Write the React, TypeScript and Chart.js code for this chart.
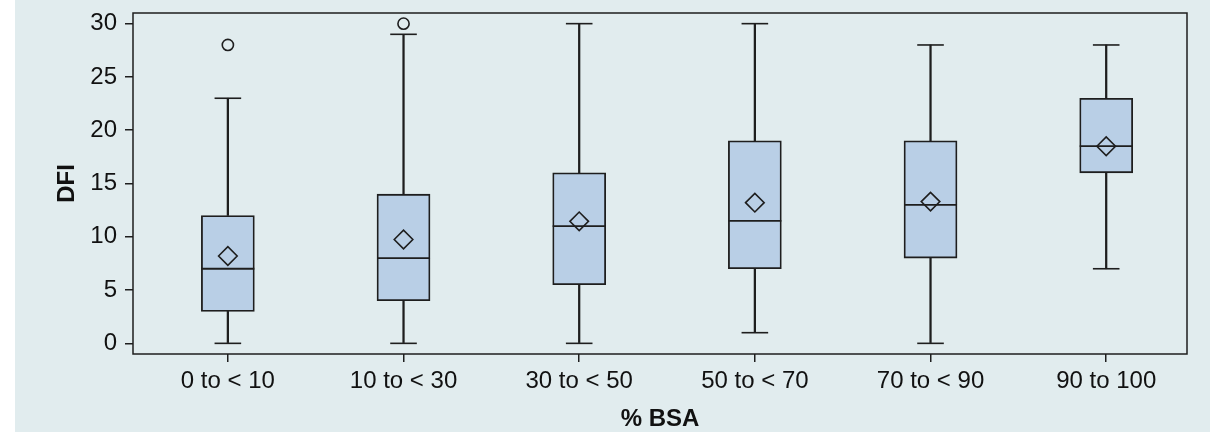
import React, { useEffect, useRef } from "react";
import { Chart, registerables } from "chart.js";

Chart.register(...registerables);

const categories = ["0 to < 10", "10 to < 30", "30 to < 50", "50 to < 70", "70 to < 90", "90 to 100"];
const whiskerMin = [0, 0, 0, 1, 0, 7];
const q1 = [3, 4, 5.5, 7, 8, 16];
const median = [7, 8, 11, 11.5, 13, 18.5];
const q3 = [12, 14, 16, 19, 19, 23];
const whiskerMax = [23, 29, 30, 30, 28, 28];
const means = [8.2, 9.75, 11.45, 13.2, 13.3, 18.5];
const outlierCat = [0, 1];
const outlierVal = [28, 30];
const yTicks = [0, 5, 10, 15, 20, 25, 30];

const LINE = "#1e1e1e";
const FONT = "'Liberation Sans', Arial, Helvetica, sans-serif";

const framePlugin = {
  id: "frame",
  afterDatasetsDraw(chart: any) {
    const { ctx, chartArea } = chart;
    ctx.save();
    ctx.strokeStyle = LINE;
    ctx.lineWidth = 1.5;
    ctx.strokeRect(chartArea.left, chartArea.top, chartArea.right - chartArea.left, chartArea.bottom - chartArea.top);
    ctx.restore();
  },
};

export default function App() {
  const ref = useRef<HTMLCanvasElement | null>(null);
  useEffect(() => {
    if (!ref.current) return;
    const idx = categories.map((_, i) => i);
    const chart = new Chart(ref.current, {
      type: "bar",
      data: {
        datasets: [
          {
            type: "bar",
            order: 10,
            data: idx.map((i) => ({ x: i, y: [q1[i], q3[i]] })) as any,
            backgroundColor: "#b9cfe6",
            borderColor: LINE,
            borderWidth: 1.8,
            borderSkipped: false,
            barThickness: 53,
            grouped: false,
          } as any,
          {
            type: "bar",
            order: 9,
            data: idx.map((i) => ({ x: i, y: [q3[i], whiskerMax[i]] })) as any,
            backgroundColor: LINE,
            borderWidth: 0,
            barThickness: 1.6,
            grouped: false,
          } as any,
          {
            type: "bar",
            order: 9,
            data: idx.map((i) => ({ x: i, y: [whiskerMin[i], q1[i]] })) as any,
            backgroundColor: LINE,
            borderWidth: 0,
            barThickness: 1.6,
            grouped: false,
          } as any,
          {
            type: "line",
            order: 1,
            data: idx.map((i) => ({ x: i, y: median[i] })),
            showLine: false,
            pointStyle: "line",
            pointRadius: 26.5,
            pointBorderWidth: 1.8,
            pointBorderColor: LINE,
          } as any,
          {
            type: "line",
            order: 1,
            data: idx.map((i) => ({ x: i, y: whiskerMax[i] })),
            showLine: false,
            pointStyle: "line",
            pointRadius: 13.3,
            pointBorderWidth: 1.6,
            pointBorderColor: LINE,
          } as any,
          {
            type: "line",
            order: 1,
            data: idx.map((i) => ({ x: i, y: whiskerMin[i] })),
            showLine: false,
            pointStyle: "line",
            pointRadius: 13.3,
            pointBorderWidth: 1.6,
            pointBorderColor: LINE,
          } as any,
          {
            type: "line",
            order: 0,
            data: idx.map((i) => ({ x: i, y: means[i] })),
            showLine: false,
            pointStyle: "rectRot",
            pointRadius: 9.3,
            pointBorderWidth: 1.6,
            pointBorderColor: LINE,
            pointBackgroundColor: "rgba(0,0,0,0)",
          } as any,
          {
            type: "line",
            order: 0,
            data: outlierCat.map((c, k) => ({ x: c, y: outlierVal[k] })),
            showLine: false,
            pointStyle: "circle",
            pointRadius: 5.6,
            pointBorderWidth: 1.6,
            pointBorderColor: LINE,
            pointBackgroundColor: "rgba(0,0,0,0)",
          } as any,
        ],
      },
      options: {
        animation: false,
        responsive: false,
        events: [],
        layout: { autoPadding: false, padding: { left: 0, top: 13, right: 23, bottom: 0 } },
        plugins: { legend: { display: false }, tooltip: { enabled: false } },
        scales: {
          x: {
            type: "linear",
            min: -0.54,
            max: 5.46,
            offset: false,
            grid: { display: true, drawOnChartArea: false, drawTicks: true, tickLength: 8, color: LINE, lineWidth: 1.5, offset: false },
            border: { display: false },
            afterBuildTicks: (scale: any) => {
              scale.ticks = idx.map((v) => ({ value: v }));
            },
            afterFit: (scale: any) => {
              scale.height = 78;
              scale.paddingLeft = 0;
              scale.paddingRight = 0;
            },
            ticks: {
              autoSkip: false,
              maxRotation: 0,
              padding: 5,
              color: "#111",
              font: { family: FONT, size: 24 },
              callback: (v: any) => categories[Math.round(Number(v))] ?? "",
            },
            title: {
              display: true,
              text: "% BSA",
              color: "#111",
              font: { family: FONT, size: 24, weight: "bold" },
              padding: { top: 0, bottom: -1.5 },
            },
          },
          y: {
            type: "linear",
            min: -1,
            max: 31,
            grid: { display: true, drawOnChartArea: false, drawTicks: true, tickLength: 8, color: LINE, lineWidth: 1.5 },
            border: { display: false },
            afterBuildTicks: (scale: any) => {
              scale.ticks = yTicks.map((v) => ({ value: v }));
            },
            afterFit: (scale: any) => {
              scale.width = 118;
              scale.paddingTop = 0;
              scale.paddingBottom = 0;
            },
            ticks: {
              padding: 8,
              color: "#111",
              font: { family: FONT, size: 24 },
              callback: (v: any) => String(v),
            },
            title: {
              display: true,
              text: "DFI",
              color: "#111",
              font: { family: FONT, size: 24, weight: "bold" },
              padding: { top: 38, bottom: 0 },
            },
          },
        },
      } as any,
      plugins: [framePlugin],
    });
    return () => chart.destroy();
  }, []);

  return (
    <div style={{ position: "absolute", left: 15, top: 0, width: 1195, height: 432, background: "#e1ecee" }}>
      <canvas ref={ref} width={1195} height={432} style={{ display: "block" }} />
    </div>
  );
}
